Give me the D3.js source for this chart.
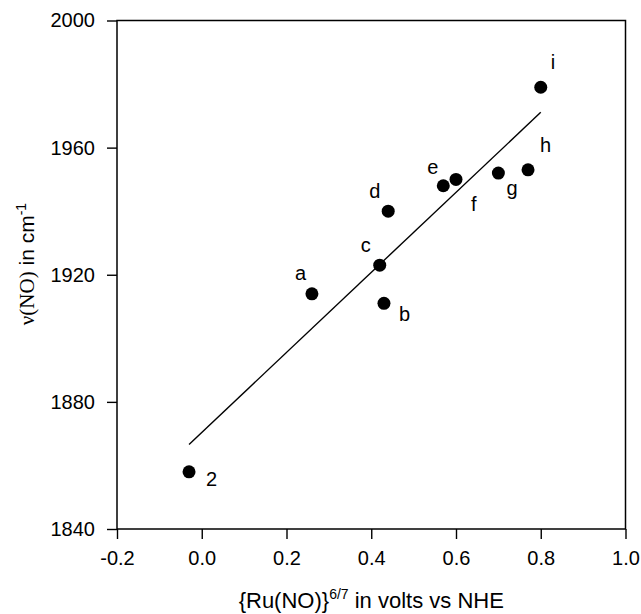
<!DOCTYPE html>
<html>
<head>
	<meta charset="utf-8">
	<title>nu(NO) vs Ru(NO) potential</title>
	<script src="https://d3js.org/d3.v7.min.js"></script>
</head>
<style>
	body{
		margin:0;
		background-color:#fff;
	}
	svg text{
		font-family: 'Liberation Sans', Arial, sans-serif;
		fill:#000;
	}
</style>
<body>
<div class="chart"></div>

<script>

//DATA

var labels = ["2", "a", "b", "c", "d", "e", "f", "g", "h", "i"];
var potentials = [-0.03, 0.26, 0.43, 0.42, 0.44, 0.57, 0.60, 0.70, 0.77, 0.80];
var nuNO = [1858, 1914, 1911, 1923, 1940, 1948, 1950, 1952, 1953, 1979];

// fitted line, end points
var fitX = [-0.03, 0.80];
var fitY = [1866.6, 1971.1];

var xTicks = [-0.2, 0.0, 0.2, 0.4, 0.6, 0.8, 1.0];
var yTicks = [1840, 1880, 1920, 1960, 2000];

//LABEL OFFSETS (px from the dot)
var labelOffset = {
	"2": [17, 14], "a": [-17, -14], "b": [15, 18], "c": [-19, -13],
	"d": [-19, -13], "e": [-16, -12], "f": [15, 32], "g": [8, 22],
	"h": [12, -18], "i": [10, -18]
};

//SETUP

var width = 641;
var height = 614;

var svg = d3.select(".chart")
	.append("svg")
	.attr("width", width)
	.attr("height", height);

var x = d3.scaleLinear()
	.domain([-0.2, 1.0])
	.range([117, 625.5]);

var y = d3.scaleLinear()
	.domain([1840, 2000])
	.range([529, 20.5]);

//AXES

var xAxis = svg.append("g")
	.attr("transform", "translate(0," + y(1840) + ")")
	.call(d3.axisBottom(x)
		.tickValues(xTicks)
		.tickSize(10)
		.tickSizeOuter(0)
		.tickPadding(12)
		.tickFormat(function(d){ return d.toFixed(1); }));

var yAxis = svg.append("g")
	.attr("transform", "translate(" + x(-0.2) + ",0)")
	.call(d3.axisLeft(y)
		.tickValues(yTicks)
		.tickSize(10)
		.tickSizeOuter(0)
		.tickPadding(12)
		.tickFormat(d3.format("d")));

xAxis.selectAll("text").style("font-size", "20px");
yAxis.selectAll("text").style("font-size", "20px");
svg.selectAll(".domain").remove();
svg.selectAll(".tick line").attr("stroke", "#000").attr("stroke-width", 1.4);

// frame
svg.append("rect")
	.attr("x", x(-0.2))
	.attr("y", y(2000))
	.attr("width", x(1.0) - x(-0.2))
	.attr("height", y(1840) - y(2000))
	.attr("fill", "none")
	.attr("stroke", "#000")
	.attr("stroke-width", 1.5);

//FIT LINE

var line = d3.line()
	.x(function(d){ return x(d[0]); })
	.y(function(d){ return y(d[1]); });

svg.append("path")
	.datum(d3.zip(fitX, fitY))
	.attr("d", line)
	.attr("fill", "none")
	.attr("stroke", "#000")
	.attr("stroke-width", 1.4);

//POINTS

var pts = labels.map(function(l, i){
	return {label: l, v: potentials[i], nu: nuNO[i]};
});

svg.append("g").selectAll("circle")
	.data(pts)
	.enter()
	.append("circle")
	.attr("cx", function(d){ return x(d.v); })
	.attr("cy", function(d){ return y(d.nu); })
	.attr("r", 6.5)
	.attr("fill", "#000");

svg.append("g").selectAll("text")
	.data(pts)
	.enter()
	.append("text")
	.attr("x", function(d){ return x(d.v) + labelOffset[d.label][0]; })
	.attr("y", function(d){ return y(d.nu) + labelOffset[d.label][1]; })
	.style("font-size", "20px")
	.text(function(d){ return d.label; });

//AXIS TITLES

var xTitle = svg.append("text")
	.attr("x", (x(-0.2) + x(1.0)) / 2)
	.attr("y", 608)
	.attr("text-anchor", "middle")
	.style("font-size", "22px");
xTitle.append("tspan").text("{Ru(NO)}");
xTitle.append("tspan").attr("dy", -9).style("font-size", "14px").text("6/7");
xTitle.append("tspan").attr("dy", 9).text(" in volts vs NHE");

var yTitle = svg.append("text")
	.attr("transform", "translate(34," + 264 + ") rotate(-90)")
	.attr("text-anchor", "middle")
	.style("font-size", "21px");
yTitle.append("tspan").style("font-family", "'Liberation Serif', serif").text("ν(NO)");
yTitle.append("tspan").text(" in cm");
yTitle.append("tspan").attr("dy", -8).style("font-size", "14px").text("-1");

</script>
</body>
</html>
